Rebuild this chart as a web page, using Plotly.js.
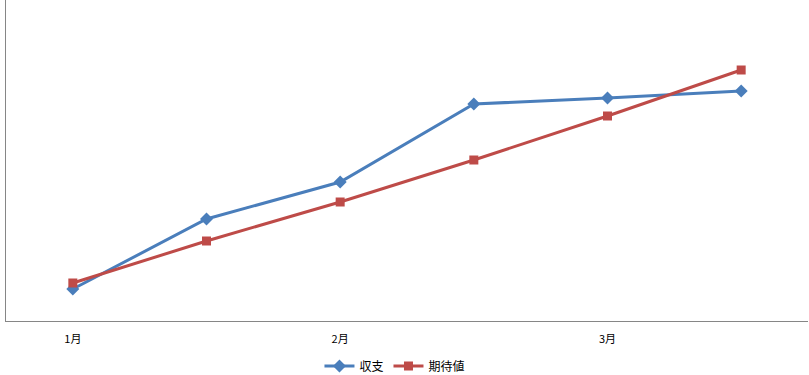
<!DOCTYPE html>
<html>
<head>
<meta charset="utf-8">
<script src="https://cdn.plot.ly/plotly-3.0.1.min.js"></script>
<style>
  html, body { margin: 0; padding: 0; background: #fff; }
  #chart { width: 809px; height: 375px; }
</style>
</head>
<body>
<div id="chart"></div>
<script>
// Category labels (only every other period is labelled)
const categories = ["1月", "", "2月", "", "3月", ""];
// Series values
const actual = [32, 102, 139, 217, 223, 230];     // 収支
const expected = [38, 80, 119, 161, 205, 251];    // 期待値
const seriesNames = ["収支", "期待値"];

const xIdx = categories.map((_, i) => i);
const tickVals = xIdx.filter(i => categories[i] !== "");
const tickText = tickVals.map(i => categories[i]);

const traces = [
  {
    x: xIdx, y: actual, name: seriesNames[0], type: "scatter", mode: "lines+markers",
    line: { color: "#4A7EBB", width: 3 },
    marker: { symbol: "diamond", size: 10, color: "#4A7EBB" }
  },
  {
    x: xIdx, y: expected, name: seriesNames[1], type: "scatter", mode: "lines+markers",
    line: { color: "#BE4B48", width: 3 },
    marker: { symbol: "square", size: 9, color: "#BE4B48" }
  }
];

const layout = {
  width: 809, height: 375,
  margin: { l: 6, r: 1, t: 0, b: 54, autoexpand: false },
  paper_bgcolor: "#fff", plot_bgcolor: "#fff",
  font: { family: "'Noto Sans CJK JP', 'DejaVu Sans', sans-serif", size: 11, color: "#000" },
  xaxis: {
    range: [-0.5, 5.5], showgrid: false, zeroline: false,
    showline: true, linecolor: "#868686", linewidth: 1,
    tickvals: tickVals, ticktext: tickText, ticks: "",
    ticklabelstandoff: 8,
    tickfont: { size: 11, color: "#000" }
  },
  yaxis: {
    range: [0, 321], showgrid: false, zeroline: false,
    showline: true, linecolor: "#868686", linewidth: 1,
    showticklabels: false, ticks: ""
  },
  showlegend: true,
  legend: {
    orientation: "h", x: 0.485, xanchor: "center", y: -0.14, yanchor: "middle",
    font: { size: 12, color: "#000" }, itemwidth: 30
  }
};

Plotly.newPlot("chart", traces, layout, { displayModeBar: false, staticPlot: true });
</script>
</body>
</html>
